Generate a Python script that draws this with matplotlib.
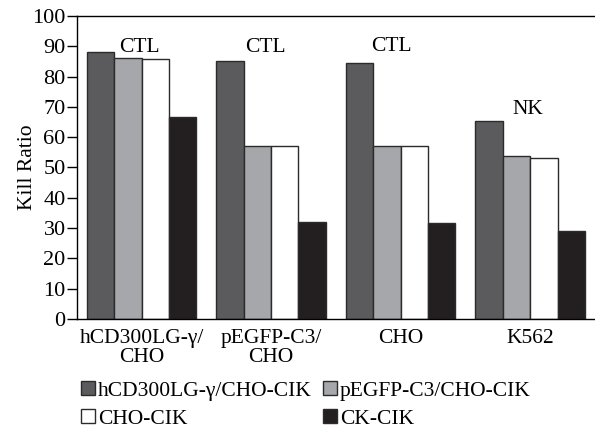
import numpy as np
import matplotlib
matplotlib.use("Agg")
import matplotlib.pyplot as plt

plt.rcParams['font.family'] = ['Liberation Serif', 'DejaVu Serif']

# Datos
groups = ["hCD300LG-γ/\nCHO", "pEGFP-C3/\nCHO", "CHO", "K562"]
series = ["hCD300LG-γ/CHO-CIK", "pEGFP-C3/CHO-CIK", "CHO-CIK", "CK-CIK"]
hcd_cik = [88.2, 85.3, 84.4, 65.5]
pegfp_cik = [86.0, 57.2, 57.2, 53.7]
cho_cik = [85.7, 57.2, 57.2, 53.0]
ck_cik = [66.8, 32.1, 31.6, 29.0]
labels_top = ["CTL", "CTL", "CTL", "NK"]
label_y = [89.5, 89.5, 90, 69.2]
label_x_off = [-0.02, -0.04, -0.07, -0.02]

colors = ["#5b5b5d", "#a6a7aa", "#ffffff", "#231f20"]
values = [hcd_cik, pegfp_cik, cho_cik, ck_cik]
fs = 15.5

fig = plt.figure(figsize=(5.95, 4.28), dpi=100)
ax = fig.add_axes([0.129, 0.2547, 0.871, 0.708])

x = np.arange(len(groups))
w = 0.2115
bars = []
for k, (vals, c) in enumerate(zip(values, colors)):
    b = ax.bar(x + (k - 1.5) * w, vals, width=w, color=c, edgecolor="#2b2b2b",
               linewidth=1.0, label=series[k])
    bars.append(b)

for i, t in enumerate(labels_top):
    ax.text(x[i] + label_x_off[i], label_y[i], t, ha="center", va="center", fontsize=fs)

ax.set_xlim(-0.5, 3.5)
ax.set_ylim(0, 100)
ax.set_yticks(np.arange(0, 101, 10))
ax.set_xticks(x)
ax.set_xticklabels(groups, fontsize=fs, linespacing=1.0)
ax.tick_params(axis="x", length=0, pad=7)
ax.tick_params(axis="y", labelsize=fs + 0.5, length=7, width=1, pad=1)
ax.set_ylabel("Kill Ratio", fontsize=fs)
ax.yaxis.set_label_coords(-0.077, 0.5)
ax.spines["right"].set_visible(False)
for s in ["left", "top", "bottom"]:
    ax.spines[s].set_linewidth(1.0)

order = [0, 2, 1, 3]
leg = fig.legend([bars[i] for i in order], [series[i] for i in order],
                 ncol=2, loc="lower left", bbox_to_anchor=(0.122, -0.022),
                 frameon=False, fontsize=fs, handlelength=0.62, handleheight=0.62,
                 handletextpad=0.15, columnspacing=0.55, labelspacing=0.4,
                 borderaxespad=0.0)

fig.savefig("out.png", dpi=100)
